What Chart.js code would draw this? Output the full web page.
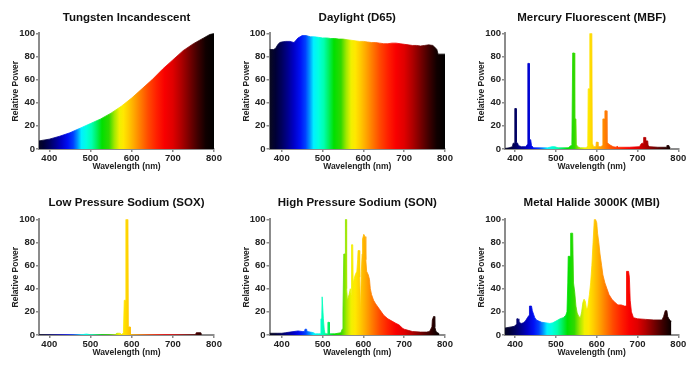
<!DOCTYPE html>
<html><head><meta charset="utf-8">
<script src="https://cdn.jsdelivr.net/npm/chart.js@4.4.1/dist/chart.umd.min.js"></script>
<style>
html,body{margin:0;padding:0;background:#fff;}
#wrap{position:relative;width:700px;height:371px;overflow:hidden;background:#fff;}
canvas{position:absolute;}
</style></head><body>
<div id="wrap">
<canvas id="c1" width="233" height="185" style="left:0;top:0"></canvas>
<canvas id="c2" width="233" height="185" style="left:233px;top:0"></canvas>
<canvas id="c3" width="234" height="185" style="left:466px;top:0"></canvas>
<canvas id="c4" width="233" height="186" style="left:0;top:185px"></canvas>
<canvas id="c5" width="233" height="186" style="left:233px;top:185px"></canvas>
<canvas id="c6" width="234" height="186" style="left:466px;top:185px"></canvas>
</div>
<script>
// ---------- data ----------
const xTickValues = [400, 500, 600, 700, 800];
const yTickValues = [0, 20, 40, 60, 80, 100];

const tungstenWl    = [375,400,425,450,475,500,525,550,575,600,625,650,675,700,725,750,775,790,800];
const tungstenPower = [7,8.5,11,14,18,22,26,31,37,44,52,60,69,77,85,91,96,99,100];

const daylightWl    = [370,380,385,390,395,400,410,420,430,435,440,445,450,460,470,480,490,500,510,520,530,540,550,560,570,580,590,600,610,620,630,640,650,660,670,680,690,700,710,720,730,740,750,760,770,775,780,783,790,800];
const daylightPower = [86,86,87,90,92,92.5,93,93,92,94,96,97,98,98,97,97,96.5,96,96,95.5,95.5,95,95,94.5,94,93.5,93,93,92.5,92,92,91.5,91,91,91.5,91.5,91,90.5,90,89.5,89.5,89,89.5,90,89.5,88,86,82,82,82];

const mercuryWl    = [375,385,393,395,398,399,402,403,406,408,415,425,428,430,431,434,435,438,440,445,480,490,497,505,530,537,539,541,545,546,549,550,553,560,575,578,579,582,583,588,589,592,598,599,602,603,610,614,615,619,620,624,625,630,640,648,650,653,680,705,708,711,714,715,719,720,725,726,730,750,770,772,777,778,780];
const mercuryPower = [0.5,1,2,5,5,35,35,6,5,3,2,2,3,4,74,74,8,8,3,1,1,2,2,1,1,3,4,83,83,26,26,4,2,1,1,3,52,52,100,100,5,2,2,6,6,2,2,3,26,26,33,33,6,4,2,1.5,2.5,1.5,1.5,2,4,5,5,10,10,7,7,3,2,1.5,1.5,3,3,2,1];

const sodiumLowWl    = [375,480,490,500,560,564,572,576,580,582,585,586,591,592,596,597,755,757,768,770];
const sodiumLowPower = [0.3,0.3,0.8,0.3,0.3,1.5,1.5,0.3,2,30,30,100,100,7,7,0.3,0.3,2,2,0.3];

const sodiumHighWl    = [370,390,400,410,420,430,440,450,456,457,461,462,470,478,482,490,495,496,498,499,501,502,504,506,512,513,516,517,530,545,548,550,552,555,556,558,559,561,565,568,570,571,574,575,580,584,586,587,590,591,593,595,597,598,601,604,606,608,612,615,617,620,625,630,640,650,660,670,680,686,690,695,700,710,720,740,755,762,765,768,769,772,774,775,778,782,786];
const sodiumHighPower = [1.5,1.5,1.5,2,2.5,3,3.5,3,3,5,5,3,2.5,2,1,1,1,14,14,33,33,14,5,1,1,11,11,1,1,2,5,20,70,70,100,100,40,30,35,40,35,78,78,45,52,55,65,73,73,50,20,55,70,83,87,85,65,55,52,48,40,35,30,27,22,17,14,12,10,9,8,6,5,4,3,2.5,2.5,3,5,7,13,16,16,7,3,2,1];

const metalHalideWl    = [375,390,398,402,404,407,409,415,420,425,430,434,435,440,442,445,448,452,458,465,475,485,492,500,510,518,524,527,529,530,535,536,541,543,546,549,552,556,560,563,566,569,572,575,578,582,585,588,591,594,597,600,602,605,608,612,615,620,625,630,637,645,652,660,668,672,673,678,680,682,685,690,700,720,740,760,764,768,772,774,777,781,783];
const metalHalidePower = [6,7,7.5,9,14,14,11,10,10.5,12,15,17,25,25,21,18,15,13,12,11,10.5,10,10.5,12,14,15,17,20,45,68,68,88,88,45,37,25,19,16,15,20,28,31,29,22,24,35,45,60,80,100,100,97,88,80,70,60,52,45,40,35,31,28,26,26,25,25,55,55,50,30,20,15,14,13.5,13,13,16,21,21,16,14,12,12];

// ---------- styling ----------
const spectrumStops = [[370,'#0a0a1e'],[385,'#000035'],[400,'#00005e'],[415,'#000090'],[430,'#0000c8'],[445,'#0010f5'],[458,'#0040ff'],[468,'#0090ff'],[478,'#00f0ff'],[490,'#00ffe0'],[503,'#00ffb0'],[515,'#00f060'],[528,'#00e000'],[545,'#30d800'],[558,'#a0e800'],[570,'#f0f000'],[580,'#ffe800'],[592,'#ffcc00'],[605,'#ffaa00'],[620,'#ff8000'],[640,'#ff4a00'],[660,'#ff2000'],[680,'#f80000'],[700,'#e00000'],[720,'#b00000'],[740,'#780000'],[760,'#400000'],[780,'#100000'],[800,'#000000']];

function spectrumFill(ctx) {
  const chart = ctx.chart;
  if (!chart.chartArea || !chart.scales.x) return 'rgba(0,0,0,0)';
  const xs = chart.scales.x;
  const x0 = xs.getPixelForValue(370), x1 = xs.getPixelForValue(800);
  const g = chart.ctx.createLinearGradient(x0, 0, x1, 0);
  spectrumStops.forEach(([w, c]) => g.addColorStop((w - 370) / 430, c));
  return g;
}

Chart.defaults.font.family = "'Liberation Sans', Arial, sans-serif";
const AXIS = '#8c8c8c';

const panels = [
  {id:'c1', title:'Tungsten Incandescent', wl:tungstenWl, pw:tungstenPower, xMin:375, yW:39, padR:19, yTP:10.2, tTop:11.1, tBot:8.4},
  {id:'c2', title:'Daylight (D65)', wl:daylightWl, pw:daylightPower, xMin:370, yW:36.5, padR:21, yTP:8.2, tTop:11.1, tBot:8.4},
  {id:'c3', title:'Mercury Fluorescent (MBF)', wl:mercuryWl, pw:mercuryPower, xMin:375, yW:39, padR:21.7, yTP:10.2, tTop:11.1, tBot:8.4},
  {id:'c4', title:'Low Pressure Sodium (SOX)', wl:sodiumLowWl, pw:sodiumLowPower, xMin:375, yW:39, padR:19, yTP:10.2, tTop:11.1, tBot:9.4},
  {id:'c5', title:'High Pressure Sodium (SON)', wl:sodiumHighWl, pw:sodiumHighPower, xMin:370, yW:36.5, padR:21, yTP:8.2, tTop:11.1, tBot:9.4},
  {id:'c6', title:'Metal Halide 3000K (MBI)', wl:metalHalideWl, pw:metalHalidePower, xMin:375, yW:39, padR:21.7, yTP:10.2, tTop:11.1, tBot:9.4}
];

function build(p) {
  const pts = p.wl.map((w, i) => ({x: w, y: p.pw[i]}));
  const tickFont = {size: 9.5, weight: 'bold'};
  const grid = {drawOnChartArea: false, drawTicks: true, tickLength: 3, color: AXIS, lineWidth: 1.5};
  const border = {display: true, color: AXIS, width: 2};
  new Chart(document.getElementById(p.id), {
    type: 'line',
    data: {datasets: [{data: pts, fill: 'origin', backgroundColor: spectrumFill, borderColor: spectrumFill,
      borderWidth: 0.8, pointRadius: 0, tension: 0}]},
    options: {
      responsive: false, animation: false, devicePixelRatio: 1,
      layout: {padding: {left: 0, right: p.padR, top: 0, bottom: 0}},
      plugins: {
        legend: {display: false}, tooltip: {enabled: false},
        title: {display: true, text: p.title, fullSize: false, color: '#111',
          font: {size: 11.5, weight: 'bold'}, padding: {top: p.tTop, bottom: p.tBot}}
      },
      scales: {
        x: {type: 'linear', min: p.xMin, max: 800,
          afterBuildTicks: s => { s.ticks = xTickValues.map(v => ({value: v})); },
          afterFit: s => { s.height = 36; },
          ticks: {color: '#222', font: tickFont, padding: 1, maxRotation: 0},
          grid: grid, border: border,
          title: {display: true, text: 'Wavelength (nm)', color: '#222', font: {size: 8.5, weight: 'bold'}, padding: {top: 0, bottom: 12.8}}},
        y: {min: 0, max: 100,
          afterBuildTicks: s => { s.ticks = yTickValues.map(v => ({value: v})); },
          afterFit: s => { s.width = p.yW; },
          ticks: {color: '#222', font: tickFont, padding: 1},
          grid: grid, border: border,
          title: {display: true, text: 'Relative Power', color: '#222', font: {size: 8.5, weight: 'bold'}, padding: {top: p.yTP, bottom: 0}}}
      }
    }
  });
}
panels.forEach(build);
</script></body></html>
